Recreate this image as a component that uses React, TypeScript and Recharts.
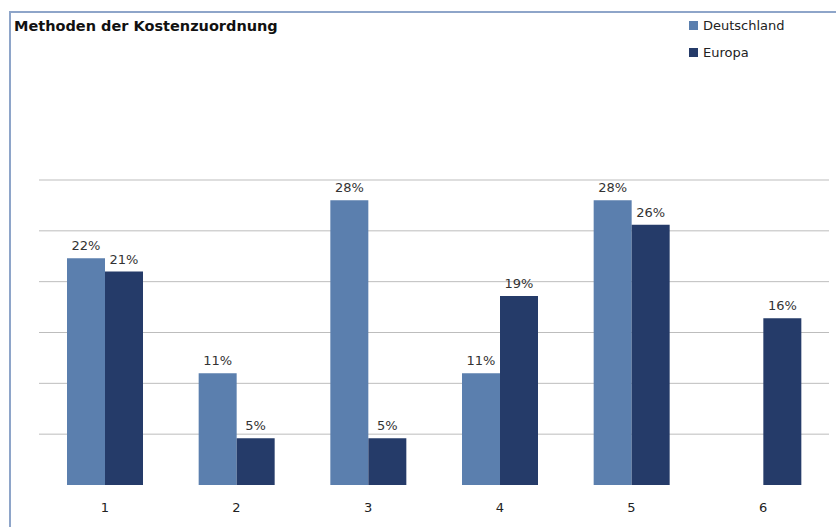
import React from "react";
import {
  BarChart,
  Bar,
  XAxis,
  YAxis,
  CartesianGrid,
  LabelList,
} from "recharts";

const categories = ["1", "2", "3", "4", "5", "6"];
// bar heights; labels show them rounded
const deutschland: (number | null)[] = [22.3, 11, 28, 11, 28, null];
const europa: (number | null)[] = [21, 4.6, 4.6, 18.6, 25.6, 16.4];
const yTicks = [0, 5, 10, 15, 20, 25, 30];
const gridValues = [5, 10, 15, 20, 25, 30];

const seriesNames = { de: "Deutschland", eu: "Europa" };
const colors = { de: "#5b7fae", eu: "#253b69" };

const data = categories.map((c, i) => ({
  name: c,
  de: deutschland[i],
  eu: europa[i],
}));

const font = "'DejaVu Sans', sans-serif";

const pct = (v: any) => (v == null ? "" : `${Math.round(v)}%`);

function LegendBox() {
  const items = [
    { label: seriesNames.de, color: colors.de },
    { label: seriesNames.eu, color: colors.eu },
  ];
  return (
    <div
      style={{
        position: "absolute",
        left: 689,
        top: 12,
        fontFamily: font,
        fontSize: 13,
        color: "#222",
      }}
    >
      {items.map((it) => (
        <div
          key={it.label}
          style={{ display: "flex", alignItems: "center", height: 27 }}
        >
          <span
            style={{
              display: "inline-block",
              width: 9,
              height: 9,
              background: it.color,
              marginRight: 5,
            }}
          />
          {it.label}
        </div>
      ))}
    </div>
  );
}

export default function App() {
  return (
    <div
      style={{
        position: "absolute",
        left: 0,
        top: 0,
        width: 836,
        height: 527,
        background: "#fff",
        overflow: "hidden",
      }}
    >
      <div
        style={{
          position: "absolute",
          left: 9,
          top: 11,
          width: 840,
          height: 530,
          borderTop: "2px solid #8ea5c9",
          borderLeft: "2px solid #8ea5c9",
        }}
      />
      <div
        style={{
          position: "absolute",
          left: 14,
          top: 18,
          fontFamily: font,
          fontWeight: "bold",
          fontSize: 14.5,
          color: "#111",
        }}
      >
        Methoden der Kostenzuordnung
      </div>
      <LegendBox />
      <BarChart
        width={836}
        height={527}
        data={data}
        margin={{ top: 180, right: 7, bottom: 12, left: 39 }}
        barGap={0}
        barSize={38}
      >
        <CartesianGrid
          vertical={false}
          stroke="#bdbdbd"
          horizontalValues={gridValues}
        />
        <XAxis
          dataKey="name"
          axisLine={false}
          tickLine={false}
          height={30}
          tick={{ fontFamily: font, fontSize: 13, fill: "#222" }}
          tickMargin={12}
        />
        <YAxis hide domain={[0, 30]} ticks={yTicks} />
        <Bar
          dataKey="de"
          name={seriesNames.de}
          fill={colors.de}
          isAnimationActive={false}
        >
          <LabelList
            dataKey="de"
            position="top"
            offset={8}
            formatter={pct}
            style={{ fontFamily: font, fontSize: 13, fill: "#333" }}
          />
        </Bar>
        <Bar
          dataKey="eu"
          name={seriesNames.eu}
          fill={colors.eu}
          isAnimationActive={false}
        >
          <LabelList
            dataKey="eu"
            position="top"
            offset={8}
            formatter={pct}
            style={{ fontFamily: font, fontSize: 13, fill: "#333" }}
          />
        </Bar>
      </BarChart>
    </div>
  );
}
